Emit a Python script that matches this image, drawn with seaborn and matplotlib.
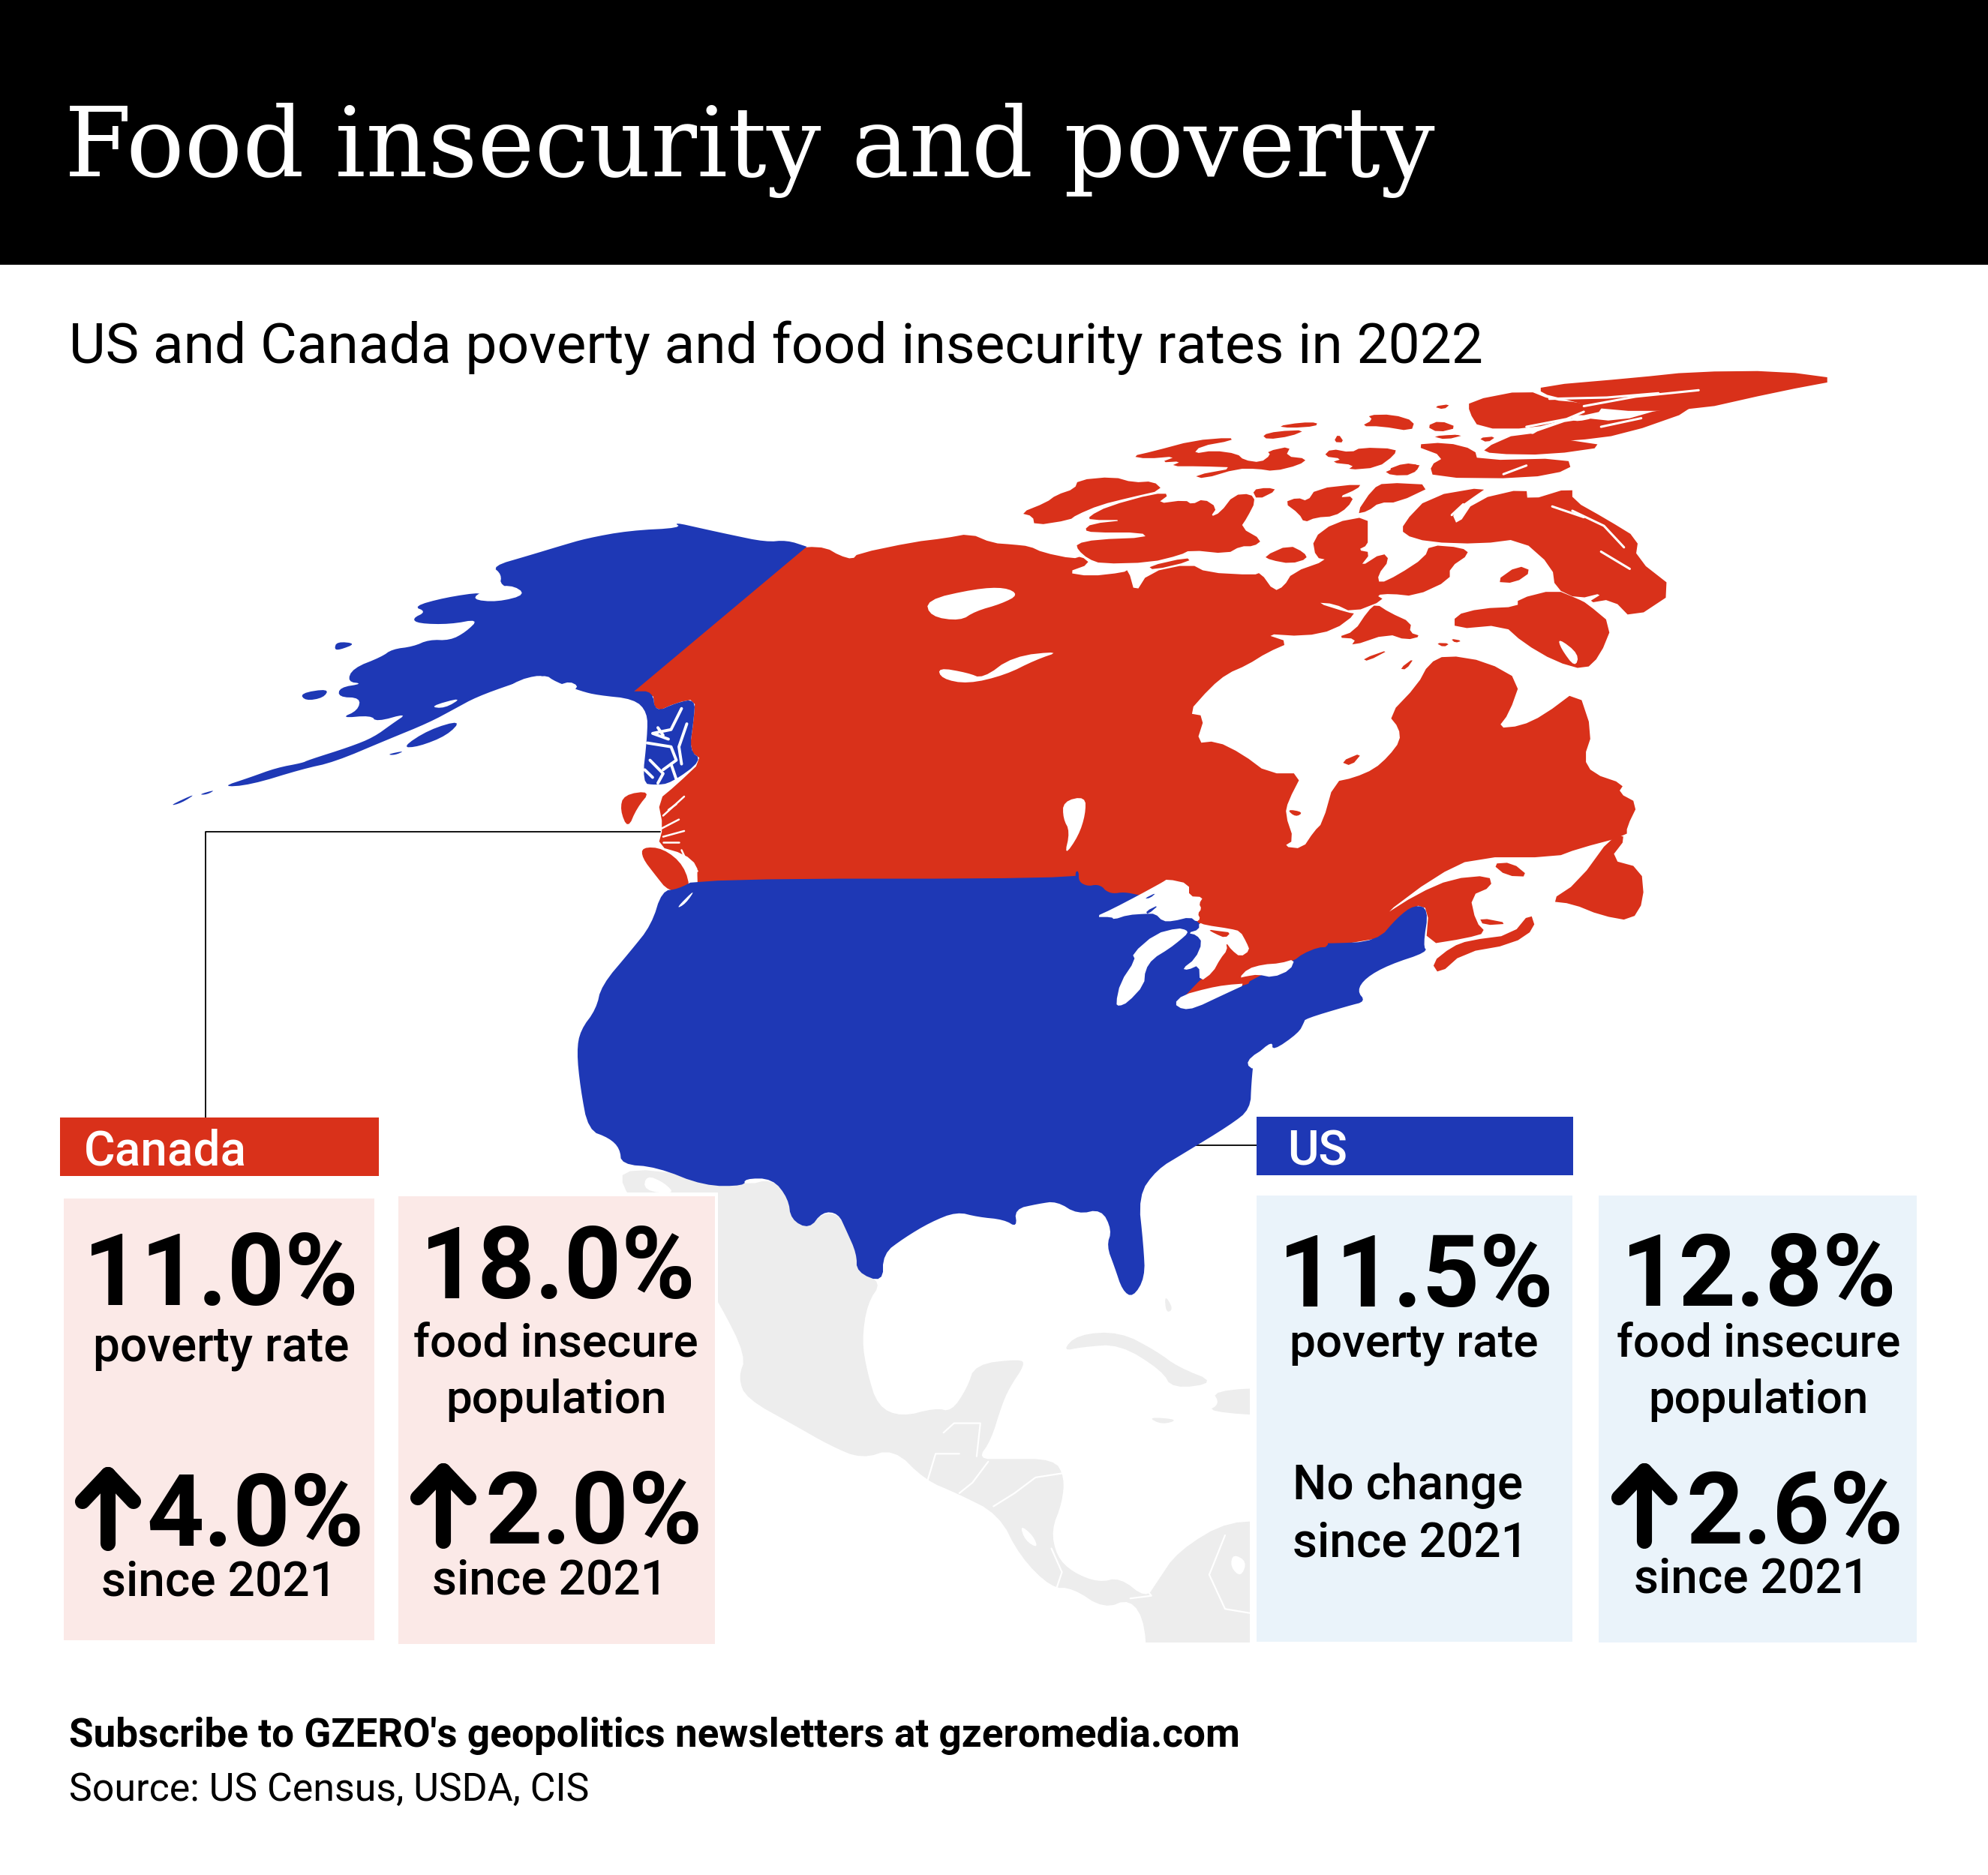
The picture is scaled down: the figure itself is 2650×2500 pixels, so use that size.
import matplotlib
matplotlib.use('Agg')
import matplotlib.pyplot as plt
import seaborn as sns
from matplotlib.patches import Rectangle

# ------------------------------------------------------
# TEXT AND VALUES
title = "Food insecurity and poverty"
subtitle = "US and Canada poverty and food insecurity rates in 2022"
footer_bold = "Subscribe to GZERO's geopolitics newsletters at gzeromedia.com"
footer_source = "Source: US Census, USDA, CIS"
countries = ["Canada", "US"]
stat_values = ["11.0%", "18.0%", "11.5%", "12.8%"]
stat_labels = [["poverty rate"], ["food insecure", "population"], ["poverty rate"], ["food insecure", "population"]]
change_values = ["4.0%", "2.0%", None, "2.6%"]

RED = '#d9311a'
BLUE = '#1e38b5'
PINK = '#fbe9e7'
ICE = '#eaf3fa'
GREY = '#ededed'

# ------------------------------------------------------
# MAP OUTLINES, one list per sheet of the map
WEST = (200, 460, .7015, .5102)
NORTH = (1300, 460, .7653, .574)
SOUTH = (700, 1100, .7015, .7015)
LAKES = (1450, 1150, 1 / 3, 1 / 3)
ARCTIC = (1350, 480, .4464, 1 / 3)

alaska = [(1248, 527), (1248, 527), (1210, 510), (1170, 515), (1100, 495), (1050, 480), (995, 463), (1010, 478), (910, 485), (830, 505),
          (780, 525), (720, 550), (650, 578), (668, 600), (665, 628), (710, 650), (670, 660), (615, 665), (635, 645),
          (560, 660), (500, 683), (525, 697), (498, 715), (510, 728), (570, 730), (625, 716), (600, 750), (570, 772),
          (530, 770), (500, 788), (460, 795), (440, 815), (385, 845), (375, 880), (405, 885), (360, 895), (358, 920),
          (400, 922), (395, 955), (362, 975), (420, 968), (430, 985), (490, 962), (460, 990), (425, 1025), (380, 1050),
          (300, 1085), (290, 1092), (240, 1105), (190, 1130), (135, 1155), (190, 1150), (290, 1108), (350, 1090),
          (450, 1032), (530, 987), (580, 950), (620, 920), (690, 885), (750, 860), (770, 880), (820, 905), (850, 915),
          (920, 925), (945, 960), (945, 1020), (935, 1145), (960, 1150), (990, 1145), (1050, 1085), (1025, 1060),
          (1033, 980), (1036, 925), (1000, 935), (960, 960), (955, 905), (920, 905), (920, 905)]
alaska_islands = [[(285, 910), (340, 898), (330, 922), (295, 930)],
                  [(350, 795), (355, 775), (392, 780), (360, 797)],
                  [(478, 1052), (530, 1005), (592, 980), (565, 1020), (510, 1050)],
                  [(35, 1205), (90, 1170), (60, 1197)],
                  [(92, 1175), (125, 1162), (108, 1175)],
                  [(450, 1070), (485, 1060), (465, 1072)]]
alaska_inlets = [[(530, 945), (595, 920), (560, 950)],
                 [(620, 955), (690, 880), (745, 860), (750, 880), (700, 905), (650, 950)],
                 [(745, 925), (790, 875), (820, 895), (770, 920)],
                 [(635, 640), (685, 625), (716, 652), (660, 672), (610, 665)]]
panhandle_cuts = [[(1010, 950), (990, 1005), (955, 1015), (985, 1030)], [(1020, 990), (1005, 1050), (1010, 1095)],
                  [(945, 1040), (990, 1050), (1000, 1085), (975, 1110)], [(950, 1085), (975, 1120), (965, 1145)],
                  [(990, 1095), (1000, 1135)], [(940, 1110), (955, 1130)], [(965, 1000), (975, 1020)]]
bc_cuts = [[(975, 1230), (1015, 1180)], [(975, 1285), (1015, 1270)], [(970, 1265), (1005, 1240)],
           [(1010, 1320), (1020, 1350), (1040, 1375)], [(1000, 1200), (985, 1215)], [(975, 1300), (1005, 1300)]]

canada_west = [(900, 915), (1228, 535), (1248, 527), (1285, 530), (1310, 550), (1335, 560), (1345, 545), (1450, 515), (1510, 505),
               (1558, 493)]
canada_top = [(30, 460)]
canada_arctic = [(0, 738), (50, 745), (90, 770), (180, 795), (205, 785), (232, 815), (160, 850), (230, 865), (330, 850), (345, 838),
                 (365, 935), (405, 850), (530, 815), (580, 850), (720, 860), (740, 850), (780, 925), (810, 905), (835, 850),
                 (940, 800), (905, 790), (895, 715), (960, 650), (1060, 625), (1060, 700), (1060, 740), (1030, 760), (1070, 770),
                 (1035, 830), (1105, 770), (1125, 800), (1090, 860), (1095, 895), (1150, 860), (1230, 790), (1245, 740), (1340, 750),
                 (1365, 775), (1305, 830), (1305, 880), (1200, 945), (1130, 935), (1085, 940), (1110, 960), (1015, 1010), (960, 975),
                 (905, 970), (1000, 1010), (1025, 1015), (960, 1080), (870, 1105), (750, 1095), (828, 1130), (760, 1170), (700, 1220),
                 (640, 1255)]
canada_north = [(410, 795), (370, 855), (400, 862), (385, 925), (420, 920), (465, 950),
                (510, 995), (570, 995), (545, 1060), (540, 1090), (555, 1150), (537, 1165), (570, 1170), (590, 1130),
                (605, 1110), (625, 1015), (660, 1005), (695, 985), (720, 955), (740, 920), (738, 890), (720, 860), (770, 790),
                (790, 740), (820, 720), (890, 735), (950, 780), (930, 855), (910, 890), (950, 885), (990, 860), (1050, 800),
                (1075, 900), (1060, 960), (1075, 995), (1130, 1020), (1120, 1040), (1155, 1065), (1135, 1120), (1135, 1140),
                (1050, 1170), (1010, 1190), (870, 1190), (800, 1235), (705, 1330), (770, 1275), (830, 1240), (895, 1232),
                (900, 1258), (862, 1280), (872, 1340), (890, 1365), (855, 1378), (785, 1393), (790, 1310), (765, 1300), (700, 1400)]
canada_south = [(1100, 250), (330, 170)]
canada_west_coast = [(1040, 1395), (1040, 1360), (1015, 1330), (965, 1310), (975, 1260), (965, 1190), (1000, 1150),
                     (1050, 1085), (1025, 1060), (1033, 980), (1036, 925), (1000, 935), (960, 960), (955, 905)]
vancouver_island = [(935, 1312), (975, 1315), (1015, 1360), (1028, 1430), (985, 1428), (960, 1385), (935, 1340)]
haida_gwaii = [(900, 1175), (952, 1165), (925, 1210), (908, 1265), (893, 1215)]

# western islands, read from the closer view
arctic_west = [
    [(22, 612), (100, 570), (130, 540), (185, 515), (195, 480), (300, 467), (360, 490), (420, 485), (448, 520), (350, 550), (260, 580),
     (190, 620), (170, 640), (65, 662), (60, 625)],
    [(228, 625), (285, 585), (420, 535), (470, 535), (430, 575), (515, 560), (535, 578), (570, 555), (610, 590), (590, 628), (620, 610),
     (660, 540), (710, 535), (725, 565), (700, 630), (680, 670), (745, 720), (720, 745), (680, 745), (640, 775), (530, 760), (500, 780),
     (410, 810), (265, 815), (225, 795), (195, 760), (190, 735), (250, 718), (400, 710), (385, 690), (240, 690), (213, 680), (235, 655),
     (340, 640), (230, 640)],
    [(715, 520), (760, 510), (790, 520), (730, 560)],
    [(405, 825), (520, 790), (530, 805), (420, 840)],
    [(750, 785), (825, 740), (870, 770), (880, 795), (830, 815), (770, 800)],
    [(355, 385), (420, 365), (540, 322), (650, 310), (655, 322), (560, 345), (540, 375), (600, 362), (670, 375), (690, 400), (740, 410),
     (770, 380), (760, 365), (830, 345), (815, 385), (880, 395), (855, 420), (780, 445), (730, 435), (670, 435), (570, 475), (540, 462),
     (670, 430), (560, 425), (470, 425), (505, 405), (440, 410), (490, 385), (400, 395)],
    [(745, 300), (790, 285), (875, 280), (830, 305), (760, 318)],
    [(790, 265), (860, 250), (910, 250), (905, 265), (830, 272)],
    [(958, 328), (972, 295), (990, 330)],
    [(928, 385), (950, 355), (1010, 370), (1040, 350), (1145, 355), (1140, 380), (1090, 430), (1000, 440), (1020, 420), (950, 410), (985, 395)],
    [(1115, 440), (1170, 412), (1215, 420), (1205, 445), (1165, 462)],
    [(1040, 265), (1075, 240), (1060, 220), (1135, 218), (1200, 245), (1190, 285), (1100, 265)],
    [(1235, 265), (1275, 242), (1330, 270), (1270, 290)],
    [(1250, 305), (1345, 297), (1290, 313)],
    [(810, 570), (850, 550), (880, 565), (905, 515), (1040, 495), (1030, 515), (970, 550), (1020, 545), (1000, 590), (960, 625),
     (905, 630), (870, 650), (855, 615)],
    [(1025, 615), (1075, 515), (1110, 490), (1260, 500), (1150, 570), (1095, 570), (1060, 605)],
    [(968, 1110), (1020, 1085), (1060, 1005), (1085, 975), (1125, 1010), (1190, 1050), (1185, 1090), (1220, 1105), (1175, 1120),
     (1120, 1095), (1010, 1145), (1025, 1115)],
    [(1045, 1195), (1130, 1155), (1060, 1205)],
    [(1155, 1235), (1200, 1190), (1175, 1238)]]
arctic_islands = [
    [(745, 415), (790, 352), (895, 328), (860, 360), (830, 390), (840, 420), (870, 360), (960, 332), (962, 362), (1040, 330),
     (1040, 360), (1100, 405), (1155, 450), (1150, 495), (1222, 570), (1145, 638), (1110, 590), (1065, 600), (1095, 575),
     (1050, 590), (1010, 565), (1005, 515), (950, 450), (880, 462), (790, 458), (745, 440)],
    [(945, 590), (1010, 568), (1050, 590), (1065, 600), (1110, 650), (1088, 722), (1062, 755), (1010, 735), (955, 692),
     (920, 650), (835, 660), (835, 628), (880, 612), (945, 608)],
    [(905, 550), (945, 512), (970, 525), (940, 553)],
    [(712, 292), (778, 272), (762, 302), (725, 303)],
    [(796, 212), (855, 208), (820, 220)],
    [(762, 232), (820, 226), (870, 243), (875, 268), (1032, 263), (1038, 290), (960, 310), (798, 308), (792, 280), (818, 260)],
    [(860, 130), (960, 104), (1005, 128), (1050, 133), (1105, 150), (1030, 172), (970, 194), (878, 194), (860, 155)],
    [(882, 242), (950, 202), (1020, 218), (1105, 235), (1000, 255), (900, 253)],
    [(955, 212), (1050, 168), (1120, 178), (1200, 147), (1258, 148), (1130, 208), (1040, 223), (980, 223)],
    [(985, 95), (1150, 76), (1250, 62), (1400, 60), (1512, 80), (1400, 108), (1250, 153), (1100, 153), (1030, 127), (985, 112)],
    [(798, 143), (828, 137), (816, 150)], [(876, 216), (908, 212), (892, 227)],
    [(802, 692), (827, 693), (816, 702)], [(828, 682), (848, 687), (836, 692)],
    [(636, 968), (675, 946), (655, 978)],
    [(1000, 1292), (1050, 1248), (1110, 1138), (1135, 1143), (1105, 1195), (1160, 1215), (1165, 1290), (1143, 1338),
     (1090, 1325), (1040, 1298)],
    [(900, 1205), (935, 1202), (965, 1235), (925, 1233)],
    [(795, 1435), (830, 1398), (860, 1383), (935, 1370), (967, 1318), (976, 1355), (935, 1392), (850, 1412), (808, 1462)],
    [(878, 1330), (932, 1344), (885, 1348)]]
arctic_cuts = [[(1015, 680), (1052, 718), (1045, 750), (1020, 705)],
               [(1040, 160), (1085, 168), (1040, 180)]]
arctic_lines = [[(1000, 125), (1100, 122), (1190, 112)], [(1060, 142), (1150, 120), (1260, 105)], [(1160, 170), (1090, 190)],
                [(960, 190), (1030, 172), (1060, 155)], [(920, 300), (960, 280)],
                [(1040, 385), (1095, 420), (1130, 470)], [(1005, 375), (1060, 400)], [(1090, 480), (1140, 520)],
                [(830, 395), (850, 370)]]
lake_winnipeg = [(153, 1060), (192, 1048), (192, 1090), (180, 1140), (155, 1188), (165, 1130), (153, 1100)]
james_bay_island = [(542, 1078), (572, 1085), (558, 1097)]

us_prairie = [(328, 102), (1046, 102), (1046, 88), (1052, 88), (1052, 108)]
us_lakes = [(0, 95), (35, 88), (60, 98), (70, 112), (100, 125), (145, 118), (205, 130), (300, 150), (435, 230), (470, 270), (570, 310),
            (700, 320), (960, 325)]
us_maine = [(700, 1385), (735, 1330), (765, 1300), (790, 1310), (780, 1395), (788, 1410), (720, 1440), (680, 1470), (665, 1500),
            (680, 1525), (650, 1535), (575, 1565)]
us_south_coast = [(1480, 375), (1470, 395), (1420, 430), (1420, 410), (1385, 440), (1380, 490), (1378, 540), (1340, 570), (1250, 625),
                  (1200, 655), (1165, 705), (1175, 800), (1178, 860), (1155, 898), (1135, 885), (1120, 840), (1105, 800),
                  (1115, 770), (1095, 730), (1050, 740), (1010, 715), (975, 720), (930, 730), (935, 765), (910, 750), (860, 745),
                  (820, 735), (770, 755), (720, 785), (680, 815), (680, 870), (630, 850), (630, 815), (610, 770), (595, 738),
                  (565, 735), (540, 768), (505, 750), (500, 710), (470, 672), (417, 672), (417, 686), (340, 686), (250, 650),
                  (183, 645), (180, 615), (160, 595), (120, 580), (105, 500), (98, 430), (105, 390), (135, 350), (145, 305),
                  (200, 240), (240, 190), (260, 125), (290, 122)]
south_ontario = [(540, 290), (700, 290), (960, 300), (960, 338), (920, 340), (860, 365), (825, 392), (650, 470), (640, 490), (520, 510),
                 (420, 525), (375, 548), (430, 490), (450, 470), (500, 430), (530, 380)]
lakes = [[(28, 218), (100, 185), (205, 130), (260, 100), (300, 78), (318, 66), (405, 85), (405, 135), (462, 138), (445, 165), (455, 185),
          (440, 205), (450, 225), (435, 238), (410, 218), (340, 235), (300, 235), (270, 205), (232, 205), (160, 210), (105, 228), (95, 218)],
         [(112, 565), (130, 480), (190, 390), (178, 365), (270, 285), (360, 262), (395, 270), (400, 283), (370, 310), (325, 345), (260, 385),
          (230, 430), (225, 490), (160, 560), (125, 575)],
         [(445, 240), (470, 250), (570, 265), (610, 275), (635, 320), (648, 352), (610, 378), (575, 350), (553, 320), (558, 350), (530, 385),
          (500, 440), (448, 478), (445, 410), (400, 430), (378, 425), (430, 385), (458, 320), (435, 290), (400, 282), (445, 268)],
         [(605, 462), (640, 425), (700, 408), (770, 403), (828, 386), (810, 430), (740, 460), (680, 448), (635, 455)],
         [(345, 565), (380, 530), (480, 503), (550, 490), (642, 483), (540, 530), (430, 582), (380, 588)]]
lake_islands = [[(480, 268), (530, 275), (572, 280), (550, 302), (510, 285)]]
lake_isles_blue = [[(225, 145), (275, 120), (250, 142)], [(232, 195), (287, 168), (240, 208)]]
east_coast_cuts = [[(1365, 450), (1420, 415), (1390, 470)], [(1480, 372), (1540, 358), (1500, 372)],
                   [(285, 160), (325, 120), (305, 150)]]

# grey neighbours, south of the US
mexico = [(185, 645), (417, 686), (470, 672), (500, 710), (505, 750), (540, 765), (565, 738), (595, 740), (610, 770), (630, 815),
          (630, 850), (678, 868), (650, 910), (640, 980), (650, 1040), (670, 1105), (715, 1125), (780, 1108), (810, 1115),
          (840, 1070), (855, 1025), (940, 1015), (950, 1025), (920, 1070), (905, 1105), (885, 1170), (860, 1205), (910, 1205),
          (1005, 1205), (1025, 1240), (1020, 1290), (1000, 1340), (1010, 1390), (1040, 1420), (1090, 1440), (1130, 1430),
          (1180, 1470), (1200, 1440), (1240, 1380), (1340, 1320), (1440, 1330), (1440, 1640), (1180, 1640), (1180, 1520),
          (1150, 1470), (1100, 1490), (1040, 1450), (1000, 1450), (940, 1390), (900, 1310), (820, 1270), (760, 1245), (700, 1185),
          (640, 1205), (580, 1180), (510, 1140), (420, 1090), (405, 1050), (420, 1010), (370, 910), (300, 800), (185, 700)]
gulf_california = [(230, 665), (225, 695), (285, 702), (265, 680)]
caribbean = [[(1020, 1000), (1050, 968), (1130, 963), (1200, 1000), (1240, 1030), (1315, 1060), (1230, 1072), (1210, 1037),
              (1130, 987), (1060, 992)],
             [(1305, 1075), (1440, 1068), (1440, 1125), (1295, 1115), (1320, 1100)],
             [(1182, 1125), (1243, 1130), (1210, 1140)],
             [(1215, 892), (1232, 920), (1218, 928)]]
borders = [[(795, 1155), (815, 1137), (865, 1137), (858, 1200)],
           [(825, 1195), (780, 1195), (765, 1245)],
           [(825, 1270), (850, 1250), (880, 1210)],
           [(890, 1295), (930, 1270), (970, 1240), (1022, 1232)],
           [(1000, 1375), (1020, 1420), (1010, 1450)],
           [(1150, 1470), (1190, 1465), (1170, 1440)],
           [(1330, 1350), (1300, 1425), (1330, 1490), (1378, 1498)]]
central_lakes = [[(940, 1330), (965, 1350), (975, 1375), (950, 1360)], [(1345, 1385), (1372, 1400), (1360, 1430), (1340, 1410)]]

# great bear and great slave lakes
great_bear = [(1234, 800), (1300, 785), (1340, 783), (1358, 793), (1335, 805), (1300, 815), (1280, 828), (1240, 822)]
great_slave = [(1250, 890), (1290, 897), (1310, 905), (1350, 875), (1415, 868), (1380, 880), (1340, 900), (1290, 912), (1255, 905)]

# leader lines from the country tabs to the map
canada_leader_x = [274, 274, 880]
canada_leader_y = [1490, 1109, 1109]
us_leader_x = [1587, 1675]
us_leader_y = [1527, 1527]


def place(points, sheet):
    x0, y0, sx, sy = sheet
    return [(x0 + x * sx, y0 + y * sy) for x, y in points]


def rounded(points, passes=2):
    # corner cutting, takes the hard angles off the coast
    for _ in range(passes):
        out = []
        for i, (x, y) in enumerate(points):
            nx, ny = points[(i + 1) % len(points)]
            out.append((.75 * x + .25 * nx, .75 * y + .25 * ny))
            out.append((.25 * x + .75 * nx, .25 * y + .75 * ny))
        points = out
    return points


def land(ax, points, color, zorder=2, passes=2):
    xs, ys = zip(*rounded(points, passes))
    return ax.fill(xs, ys, color=color, lw=0, zorder=zorder)[0]


def cuts(ax, lines, sheet, zorder, lw=2.2):
    for line in lines:
        xs, ys = zip(*place(line, sheet))
        ax.plot(xs, ys, color='white', lw=lw, solid_capstyle='round', zorder=zorder)


# ------------------------------------------------------
# FIGURE
sns.set_theme(style='white')
plt.rcParams['font.family'] = ['Roboto', 'DejaVu Sans']

fig = plt.figure(figsize=(26.5, 25), dpi=100, facecolor='white')
ax = fig.add_axes([0, 0, 1, 1])

ax.add_patch(Rectangle((0, 0), 2650, 353, color='black', lw=0, zorder=1))
ax.text(86, 235, title, color='white', fontsize=92.6, family='DejaVu Serif', zorder=6)
ax.text(92, 484, subtitle, color='black', fontsize=54, zorder=6)

# ------------------------------------------------------
# MAP
grey_clip = Rectangle((0, 1400), 1666, 790, transform=ax.transData)
grey_land = [land(ax, place(mexico, SOUTH), GREY, 1)]
for part in caribbean:
    grey_land.append(land(ax, place(part, SOUTH), GREY, 1))
for patch in grey_land:
    patch.set_clip_path(grey_clip)
land(ax, place(gulf_california, SOUTH), 'white', 1.1)
for part in central_lakes:
    land(ax, place(part, SOUTH), 'white', 1.1)
cuts(ax, borders, SOUTH, 1.2, lw=1.6)

canada = (place(canada_west, WEST) + place(canada_top, NORTH) + place(canada_arctic, ARCTIC) + place(canada_north, NORTH)
          + place(canada_south, SOUTH) + place(canada_west_coast, WEST))
land(ax, canada, RED, passes=1)
for part in arctic_islands:
    land(ax, place(part, NORTH), RED, passes=1)
for part in arctic_west:
    land(ax, place(part, ARCTIC), RED, passes=1)
for part in arctic_cuts + [lake_winnipeg]:
    land(ax, place(part, NORTH), 'white', 2.5)
cuts(ax, arctic_lines, NORTH, 2.5)
land(ax, place(james_bay_island, NORTH), RED, 2.6)
land(ax, place(vancouver_island, WEST), RED)
land(ax, place(haida_gwaii, WEST), RED)
cuts(ax, bc_cuts, WEST, 2.5, lw=1.8)
land(ax, great_bear, 'white', 2.5)
land(ax, great_slave, 'white', 2.5)

land(ax, place(alaska, WEST), BLUE, 3)
for part in alaska_islands:
    land(ax, place(part, WEST), BLUE, 3)
for part in alaska_inlets:
    land(ax, place(part, WEST), 'white', 3.1)
cuts(ax, panhandle_cuts, WEST, 3.1, lw=2.8)

us = place(us_prairie, SOUTH) + place(us_lakes, LAKES) + place(us_maine, NORTH) + place(us_south_coast, SOUTH)
land(ax, us, BLUE, 3)
land(ax, place(south_ontario, LAKES), RED, 3.1, passes=1)
for part in lakes:
    land(ax, place(part, LAKES), 'white', 3.2, passes=1)
for part in lake_islands:
    land(ax, place(part, LAKES), RED, 3.3, passes=1)
for part in lake_isles_blue:
    land(ax, place(part, LAKES), BLUE, 3.3, passes=1)
for part in east_coast_cuts:
    land(ax, place(part, SOUTH), 'white', 3.2)

sns.lineplot(x=canada_leader_x, y=canada_leader_y, sort=False, estimator=None, color='black', lw=1.3, ax=ax, zorder=2.8)
sns.lineplot(x=us_leader_x, y=us_leader_y, sort=False, estimator=None, color='black', lw=1.3, ax=ax, zorder=2.8)

# ------------------------------------------------------
# COUNTRY TABS AND CARDS
ax.add_patch(Rectangle((80, 1490), 425, 78, color=RED, lw=0, zorder=4))
ax.add_patch(Rectangle((1675, 1489), 422, 78, color=BLUE, lw=0, zorder=4))
ax.text(112, 1553, countries[0], color='white', fontsize=46, fontweight='medium', zorder=6)
ax.text(1716, 1553, countries[1], color='white', fontsize=46, fontweight='medium', zorder=6)

ax.add_patch(Rectangle((525, 1590), 432, 606, color='white', lw=0, zorder=3.9))
cards = [(85, 1598, 414, 589, PINK), (531, 1595, 422, 597, PINK), (1675, 1594, 421, 595, ICE), (2131, 1594, 424, 596, ICE)]
for x, y, w, h, color in cards:
    ax.add_patch(Rectangle((x, y), w, h, facecolor=color, lw=0, zorder=4))

value_pos = [(294, 1740), (743, 1731), (1887, 1742), (2344, 1741)]
label_pos = [(295, [1814]), (741, [1809, 1884]), (1885, [1810]), (2344, [1810, 1884])]
label_size = [46, 44.6, 44.7, 44.4]
for i in range(4):
    ax.text(value_pos[i][0], value_pos[i][1], stat_values[i], ha='center', fontsize=96, fontweight='bold', color='black', zorder=6)
    for line, y in zip(stat_labels[i], label_pos[i][1]):
        ax.text(label_pos[i][0], y, line, ha='center', fontsize=label_size[i], fontweight='medium', color='black', zorder=6)

# (arrow centre, arrow top, arrow bottom, value left, value baseline, since centre, since baseline)
change_pos = [(144, 1966, 2058, 195, 2061, 292, 2128), (591, 1961, 2055, 646, 2058, 733, 2125), None, (2192, 1961, 2055, 2247, 2058, 2335, 2124)]
for i in range(4):
    if change_values[i] is None:
        continue
    arrow_x, top, bottom, vx, vy, sx, sy = change_pos[i]
    ax.plot([arrow_x, arrow_x], [top, bottom], color='black', lw=14.5, solid_capstyle='round', zorder=6)
    ax.plot([arrow_x - 34, arrow_x, arrow_x + 34], [top + 36, top, top + 36], color='black', lw=14.5, solid_capstyle='round',
            solid_joinstyle='round', zorder=6)
    ax.text(vx, vy, change_values[i], fontsize=96, fontweight='bold', color='black', zorder=6)
    ax.text(sx, sy, 'since 2021', ha='center', fontsize=46, fontweight='medium', color='black', zorder=6)

ax.text(1877, 1999, 'No change', ha='center', fontsize=46, fontweight='medium', color='black', zorder=6)
ax.text(1880, 2075, 'since 2021', ha='center', fontsize=46, fontweight='medium', color='black', zorder=6)

# ------------------------------------------------------
# FOOTER
ax.text(92, 2329, footer_bold, fontsize=38.2, fontweight='bold', color='black', zorder=6)
ax.text(92, 2401, footer_source, fontsize=37.4, color='black', zorder=6)

ax.set_xlim(0, 2650)
ax.set_ylim(2500, 0)
ax.axis('off')
fig.savefig('out.png', dpi=100, facecolor='white')
